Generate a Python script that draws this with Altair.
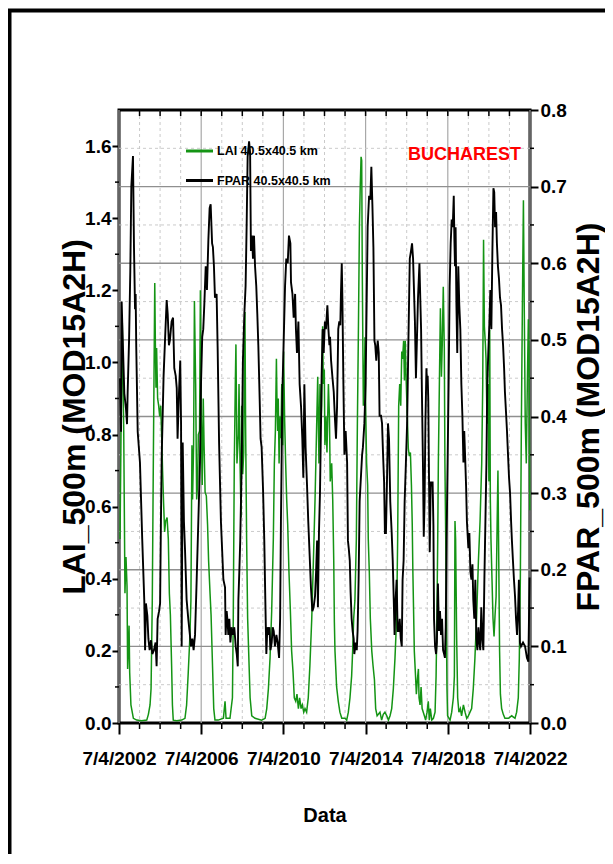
import altair as alt
import pandas as pd

# ---------------- data ----------------
# time is in decimal years, 2002.5 being the 7/4/2002 axis start
lai_year = [2002.55, 2002.60, 2002.66, 2002.73, 2002.79, 2002.84, 2002.89, 2002.92, 2002.99, 2003.02,
            2003.08, 2003.20, 2003.36, 2003.60, 2003.85, 2003.93, 2004.01, 2004.06, 2004.12, 2004.17,
            2004.24, 2004.27, 2004.30, 2004.33, 2004.38, 2004.43, 2004.48, 2004.53, 2004.58, 2004.62,
            2004.67, 2004.72, 2004.77, 2004.84, 2004.90, 2004.95, 2005.00, 2005.06, 2005.10, 2005.14,
            2005.31, 2005.55, 2005.71, 2005.79, 2005.87, 2005.95, 2006.00, 2006.05, 2006.08, 2006.13,
            2006.17, 2006.23, 2006.28, 2006.33, 2006.36, 2006.42, 2006.46, 2006.49, 2006.52, 2006.55,
            2006.60, 2006.64, 2006.69, 2006.75, 2006.81, 2006.86, 2006.93, 2006.98, 2007.04, 2007.11,
            2007.17, 2007.33, 2007.58, 2007.66, 2007.71, 2007.90, 2008.02, 2008.06, 2008.11, 2008.16,
            2008.19, 2008.24, 2008.31, 2008.34, 2008.39, 2008.44, 2008.47, 2008.52, 2008.57, 2008.60,
            2008.63, 2008.66, 2008.71, 2008.76, 2008.83, 2008.88, 2008.96, 2009.12, 2009.44, 2009.61,
            2009.69, 2009.77, 2009.85, 2009.93, 2010.01, 2010.06, 2010.11, 2010.16, 2010.19, 2010.22,
            2010.25, 2010.29, 2010.34, 2010.38, 2010.42, 2010.47, 2010.51, 2010.56, 2010.61, 2010.66,
            2010.71, 2010.77, 2010.84, 2010.90, 2010.97, 2011.03, 2011.10, 2011.16, 2011.23, 2011.29,
            2011.36, 2011.42, 2011.49, 2011.55, 2011.63, 2011.71, 2011.79, 2011.88, 2011.96, 2012.04,
            2012.12, 2012.17, 2012.23, 2012.28, 2012.33, 2012.36, 2012.41, 2012.44, 2012.49, 2012.52,
            2012.57, 2012.62, 2012.69, 2012.74, 2012.78, 2012.85, 2012.90, 2012.95, 2012.98, 2013.01,
            2013.09, 2013.17, 2013.25, 2013.34, 2013.50, 2013.58, 2013.66, 2013.74, 2013.82, 2013.87,
            2013.92, 2013.98, 2014.05, 2014.10, 2014.15, 2014.20, 2014.24, 2014.28, 2014.31, 2014.34,
            2014.39, 2014.44, 2014.47, 2014.50, 2014.55, 2014.60, 2014.63, 2014.68, 2014.73, 2014.80,
            2014.86, 2014.93, 2014.99, 2015.06, 2015.20, 2015.28, 2015.36, 2015.44, 2015.53, 2015.61,
            2015.69, 2015.77, 2015.85, 2015.93, 2016.01, 2016.06, 2016.11, 2016.16, 2016.21, 2016.26,
            2016.30, 2016.35, 2016.39, 2016.43, 2016.48, 2016.53, 2016.58, 2016.63, 2016.68, 2016.73,
            2016.77, 2016.80, 2016.87, 2016.93, 2016.97, 2017.02, 2017.07, 2017.10, 2017.15, 2017.20,
            2017.25, 2017.36, 2017.42, 2017.49, 2017.55, 2017.60, 2017.65, 2017.72, 2017.80, 2017.88,
            2017.93, 2017.97, 2018.01, 2018.04, 2018.09, 2018.14, 2018.19, 2018.23, 2018.28, 2018.33,
            2018.36, 2018.40, 2018.43, 2018.46, 2018.49, 2018.61, 2018.69, 2018.77, 2018.82, 2018.85,
            2018.88, 2018.93, 2018.98, 2019.04, 2019.11, 2019.17, 2019.26, 2019.34, 2019.42, 2019.50,
            2019.58, 2019.66, 2019.74, 2019.82, 2019.90, 2019.99, 2020.07, 2020.15, 2020.20, 2020.24,
            2020.28, 2020.33, 2020.36, 2020.41, 2020.46, 2020.50, 2020.54, 2020.57, 2020.60, 2020.65,
            2020.70, 2020.75, 2020.80, 2020.85, 2020.90, 2020.94, 2020.98, 2021.02, 2021.06, 2021.12,
            2021.20, 2021.28, 2021.45, 2021.61, 2021.77, 2021.85, 2021.93, 2021.98, 2022.03, 2022.08,
            2022.13, 2022.18, 2022.22, 2022.27, 2022.32, 2022.37, 2022.42, 2022.45, 2022.49]
lai_value = [0.51, 0.81, 1.11, 0.81, 0.36, 0.46, 0.38, 0.15, 0.27, 0.14,
             0.05, 0.013, 0.008, 0.006, 0.008, 0.024, 0.05, 0.095, 0.34, 0.72,
             1.22, 1.05, 0.93, 1.04, 0.90, 0.88, 0.85, 0.88, 0.79, 0.70,
             0.61, 0.53, 0.56, 0.57, 0.51, 0.36, 0.30, 0.16, 0.05, 0.008,
             0.006, 0.008, 0.013, 0.05, 0.14, 0.24, 0.34, 0.77, 0.62, 0.77,
             1.17, 0.94, 0.62, 0.67, 0.80, 0.81, 1.20, 0.90, 0.78, 0.66,
             0.90, 0.77, 0.64, 0.63, 0.55, 0.45, 0.36, 0.30, 0.18, 0.04,
             0.008, 0.008, 0.013, 0.06, 0.013, 0.013, 0.07, 0.29, 0.72, 0.94,
             1.05, 0.72, 0.80, 0.94, 0.72, 0.57, 0.88, 0.69, 0.75, 1.00,
             1.14, 0.83, 0.51, 0.29, 0.16, 0.07, 0.02, 0.013, 0.008, 0.013,
             0.04, 0.095, 0.18, 0.31, 0.51, 0.72, 0.81, 1.01, 0.88, 0.81,
             0.90, 0.72, 0.85, 0.79, 0.94, 0.77, 1.03, 0.84, 0.72, 0.62,
             0.55, 0.42, 0.31, 0.20, 0.14, 0.07, 0.06, 0.08, 0.04, 0.07,
             0.04, 0.05, 0.03, 0.04, 0.03, 0.07, 0.16, 0.29, 0.45, 0.62,
             0.83, 0.96, 0.72, 0.94, 0.83, 0.88, 1.10, 0.94, 0.98, 0.77,
             0.85, 0.75, 0.94, 0.85, 0.67, 0.72, 0.62, 0.45, 0.28, 0.20,
             0.10, 0.06, 0.03, 0.013, 0.013, 0.008, 0.03, 0.07, 0.13, 0.20,
             0.29, 0.34, 0.51, 0.83, 1.09, 1.38, 1.49, 1.57, 1.56, 1.24,
             0.88, 0.96, 1.07, 0.88, 0.72, 0.66, 0.51, 0.42, 0.29, 0.20,
             0.16, 0.12, 0.04, 0.02, 0.03, 0.008, 0.024, 0.03, 0.02, 0.008,
             0.02, 0.04, 0.095, 0.18, 0.29, 0.51, 0.88, 0.94, 0.88, 1.03,
             1.01, 1.06, 0.95, 1.06, 0.94, 0.85, 0.76, 0.74, 0.75, 0.66,
             0.55, 0.42, 0.20, 0.13, 0.08, 0.12, 0.15, 0.07, 0.05, 0.10,
             0.04, 0.02, 0.008, 0.03, 0.06, 0.008, 0.04, 0.008, 0.013, 0.03,
             0.13, 0.29, 0.51, 0.72, 0.94, 1.15, 0.96, 1.05, 1.21, 1.04,
             0.72, 0.51, 0.29, 0.095, 0.02, 0.008, 0.03, 0.07, 0.13, 0.56,
             0.51, 0.24, 0.07, 0.03, 0.04, 0.02, 0.05, 0.03, 0.013, 0.02,
             0.03, 0.04, 0.095, 0.18, 0.29, 0.45, 0.56, 0.72, 0.94, 1.34,
             1.10, 1.05, 1.01, 0.83, 0.94, 0.67, 1.09, 0.62, 0.51, 0.40,
             0.29, 0.24, 0.30, 0.35, 0.55, 0.70, 0.45, 0.20, 0.08, 0.04,
             0.024, 0.013, 0.013, 0.02, 0.013, 0.03, 0.07, 0.18, 0.40, 0.83,
             1.16, 1.45, 1.16, 0.83, 0.72, 0.94, 1.12, 1.03, 0.59]

fpar_year = [2002.55, 2002.60, 2002.63, 2002.66, 2002.76, 2002.84, 2002.89, 2002.92, 2002.99, 2003.05,
             2003.10, 2003.18, 2003.23, 2003.28, 2003.31, 2003.34, 2003.41, 2003.52, 2003.63, 2003.73,
             2003.77, 2003.81, 2003.88, 2003.93, 2003.99, 2004.06, 2004.12, 2004.20, 2004.28, 2004.33,
             2004.38, 2004.45, 2004.50, 2004.54, 2004.58, 2004.67, 2004.74, 2004.82, 2004.87, 2004.93,
             2004.98, 2005.06, 2005.13, 2005.19, 2005.26, 2005.31, 2005.35, 2005.42, 2005.48, 2005.52,
             2005.55, 2005.60, 2005.66, 2005.71, 2005.79, 2005.87, 2005.95, 2006.00, 2006.07, 2006.13,
             2006.20, 2006.28, 2006.36, 2006.44, 2006.49, 2006.55, 2006.60, 2006.65, 2006.72, 2006.78,
             2006.85, 2006.91, 2006.96, 2007.03, 2007.07, 2007.12, 2007.17, 2007.25, 2007.30, 2007.37,
             2007.46, 2007.58, 2007.66, 2007.69, 2007.74, 2007.79, 2007.82, 2007.87, 2007.92, 2007.98,
             2008.05, 2008.11, 2008.18, 2008.23, 2008.28, 2008.31, 2008.36, 2008.40, 2008.47, 2008.53,
             2008.60, 2008.66, 2008.71, 2008.76, 2008.83, 2008.88, 2008.92, 2008.97, 2009.02, 2009.07,
             2009.12, 2009.18, 2009.23, 2009.28, 2009.35, 2009.39, 2009.44, 2009.51, 2009.57, 2009.62,
             2009.67, 2009.72, 2009.77, 2009.82, 2009.87, 2009.93, 2009.98, 2010.03, 2010.09, 2010.16,
             2010.22, 2010.29, 2010.34, 2010.38, 2010.45, 2010.51, 2010.58, 2010.64, 2010.71, 2010.77,
             2010.84, 2010.87, 2010.94, 2011.00, 2011.07, 2011.11, 2011.16, 2011.23, 2011.29, 2011.36,
             2011.42, 2011.47, 2011.52, 2011.58, 2011.65, 2011.71, 2011.78, 2011.84, 2011.91, 2011.97,
             2012.04, 2012.09, 2012.14, 2012.18, 2012.23, 2012.28, 2012.33, 2012.36, 2012.41, 2012.46,
             2012.52, 2012.57, 2012.64, 2012.69, 2012.74, 2012.77, 2012.82, 2012.88, 2012.95, 2013.01,
             2013.06, 2013.11, 2013.17, 2013.22, 2013.27, 2013.30, 2013.34, 2013.37, 2013.42, 2013.47,
             2013.53, 2013.60, 2013.64, 2013.68, 2013.73, 2013.77, 2013.82, 2013.87, 2013.92, 2013.95,
             2014.02, 2014.07, 2014.11, 2014.16, 2014.21, 2014.28, 2014.33, 2014.37, 2014.44, 2014.50,
             2014.55, 2014.60, 2014.67, 2014.73, 2014.78, 2014.83, 2014.88, 2014.93, 2014.97, 2015.02,
             2015.09, 2015.14, 2015.18, 2015.25, 2015.30, 2015.35, 2015.40, 2015.44, 2015.49, 2015.54,
             2015.59, 2015.64, 2015.70, 2015.77, 2015.82, 2015.87, 2015.91, 2015.96, 2016.01, 2016.06,
             2016.11, 2016.16, 2016.21, 2016.26, 2016.30, 2016.35, 2016.40, 2016.45, 2016.52, 2016.58,
             2016.65, 2016.71, 2016.76, 2016.81, 2016.86, 2016.90, 2016.95, 2017.05, 2017.12, 2017.16,
             2017.20, 2017.24, 2017.29, 2017.33, 2017.37, 2017.41, 2017.46, 2017.49, 2017.52, 2017.55,
             2017.59, 2017.62, 2017.67, 2017.71, 2017.76, 2017.80, 2017.83, 2017.88, 2017.93, 2017.97,
             2018.02, 2018.07, 2018.12, 2018.17, 2018.22, 2018.27, 2018.32, 2018.36, 2018.40, 2018.44,
             2018.49, 2018.54, 2018.59, 2018.64, 2018.69, 2018.74, 2018.79, 2018.82, 2018.85, 2018.88,
             2018.92, 2018.96, 2019.01, 2019.06, 2019.11, 2019.16, 2019.21, 2019.26, 2019.30, 2019.34,
             2019.39, 2019.43, 2019.50, 2019.55, 2019.60, 2019.65, 2019.70, 2019.74, 2019.79, 2019.84,
             2019.89, 2019.94, 2019.99, 2020.04, 2020.08, 2020.13, 2020.18, 2020.23, 2020.28, 2020.33,
             2020.38, 2020.42, 2020.47, 2020.52, 2020.57, 2020.62, 2020.67, 2020.72, 2020.76, 2020.80,
             2020.85, 2020.89, 2020.94, 2020.99, 2021.04, 2021.09, 2021.14, 2021.19, 2021.24, 2021.28,
             2021.33, 2021.38, 2021.43, 2021.48, 2021.53, 2021.58, 2021.62, 2021.67, 2021.72, 2021.77,
             2021.82, 2021.87, 2021.92, 2021.96, 2022.01, 2022.06, 2022.16, 2022.26, 2022.35, 2022.42,
             2022.48]
fpar_value = [0.45, 0.38, 0.55, 0.52, 0.43, 0.41, 0.39, 0.43, 0.50, 0.59,
              0.70, 0.74, 0.62, 0.54, 0.56, 0.49, 0.38, 0.34, 0.24, 0.16,
              0.095, 0.156, 0.14, 0.11, 0.095, 0.108, 0.09, 0.095, 0.105, 0.074,
              0.136, 0.146, 0.156, 0.263, 0.35, 0.453, 0.50, 0.552, 0.534, 0.493,
              0.50, 0.524, 0.529, 0.463, 0.453, 0.437, 0.371, 0.432, 0.473, 0.391,
              0.10, 0.366, 0.263, 0.228, 0.161, 0.136, 0.115, 0.10, 0.11, 0.095,
              0.115, 0.187, 0.263, 0.34, 0.442, 0.504, 0.514, 0.545, 0.596, 0.565,
              0.631, 0.672, 0.677, 0.626, 0.621, 0.596, 0.555, 0.56, 0.49, 0.366,
              0.263, 0.187, 0.177, 0.115, 0.146, 0.13, 0.115, 0.136, 0.105, 0.125,
              0.115, 0.125, 0.10, 0.09, 0.074, 0.161, 0.202, 0.238, 0.34, 0.473,
              0.534, 0.57, 0.647, 0.739, 0.759, 0.744, 0.616, 0.636, 0.606, 0.636,
              0.596, 0.57, 0.534, 0.493, 0.417, 0.371, 0.36, 0.304, 0.238, 0.161,
              0.09, 0.125, 0.115, 0.125, 0.095, 0.105, 0.125, 0.12, 0.10, 0.115,
              0.105, 0.085, 0.136, 0.263, 0.432, 0.493, 0.57, 0.606, 0.60, 0.636,
              0.626, 0.575, 0.56, 0.529, 0.56, 0.514, 0.483, 0.524, 0.442, 0.412,
              0.371, 0.32, 0.442, 0.36, 0.31, 0.263, 0.217, 0.177, 0.146, 0.151,
              0.166, 0.197, 0.238, 0.151, 0.248, 0.30, 0.391, 0.453, 0.514, 0.483,
              0.524, 0.514, 0.545, 0.514, 0.493, 0.504, 0.473, 0.453, 0.432, 0.396,
              0.371, 0.412, 0.514, 0.524, 0.519, 0.56, 0.60, 0.555, 0.442, 0.35,
              0.381, 0.34, 0.238, 0.228, 0.212, 0.171, 0.136, 0.12, 0.11, 0.09,
              0.105, 0.095, 0.12, 0.187, 0.289, 0.325, 0.35, 0.36, 0.391, 0.442,
              0.545, 0.647, 0.688, 0.683, 0.726, 0.677, 0.621, 0.499, 0.493, 0.473,
              0.499, 0.483, 0.401, 0.401, 0.391, 0.35, 0.315, 0.248, 0.248, 0.315,
              0.391, 0.371, 0.289, 0.248, 0.212, 0.161, 0.115, 0.161, 0.187, 0.12,
              0.12, 0.136, 0.11, 0.10, 0.187, 0.212, 0.289, 0.33, 0.391, 0.493,
              0.606, 0.616, 0.626, 0.606, 0.56, 0.524, 0.45, 0.555, 0.60, 0.555,
              0.514, 0.432, 0.34, 0.243, 0.289, 0.391, 0.463, 0.442, 0.453, 0.422,
              0.309, 0.223, 0.315, 0.309, 0.315, 0.258, 0.136, 0.10, 0.09, 0.105,
              0.182, 0.12, 0.146, 0.115, 0.136, 0.095, 0.09, 0.085, 0.125, 0.238,
              0.34, 0.442, 0.57, 0.626, 0.657, 0.647, 0.688, 0.631, 0.596, 0.647,
              0.545, 0.483, 0.596, 0.545, 0.514, 0.442, 0.401, 0.34, 0.381, 0.35,
              0.309, 0.263, 0.228, 0.248, 0.197, 0.187, 0.207, 0.161, 0.136, 0.187,
              0.11, 0.095, 0.125, 0.105, 0.095, 0.151, 0.11, 0.095, 0.187, 0.263,
              0.34, 0.442, 0.483, 0.519, 0.565, 0.514, 0.616, 0.698, 0.693, 0.647,
              0.667, 0.626, 0.596, 0.58, 0.555, 0.545, 0.514, 0.493, 0.463, 0.432,
              0.407, 0.381, 0.35, 0.32, 0.30, 0.263, 0.238, 0.212, 0.187, 0.166,
              0.136, 0.115, 0.146, 0.187, 0.105, 0.10, 0.105, 0.10, 0.085, 0.08,
              0.19]

major_x = [2002.5, 2006.5, 2010.5, 2014.5, 2018.5, 2022.5]
minor_x = [2003.5, 2004.5, 2005.5, 2007.5, 2008.5, 2009.5, 2011.5, 2012.5, 2013.5,
           2015.5, 2016.5, 2017.5, 2019.5, 2020.5, 2021.5]
top_x = [2003.5, 2004.5, 2005.5, 2006.5, 2007.5, 2008.5, 2009.5, 2010.5, 2011.5, 2012.5,
         2013.5, 2014.5, 2015.5, 2016.5, 2017.5, 2018.5, 2019.5, 2020.5, 2021.5]
lai_ticks = [0.0, 0.2, 0.4, 0.6, 0.8, 1.0, 1.2, 1.4, 1.6]
lai_minor = [0.1, 0.3, 0.5, 0.7, 0.9, 1.1, 1.3, 1.5]
fpar_ticks = [0.0, 0.1, 0.2, 0.3, 0.4, 0.5, 0.6, 0.7, 0.8]
fpar_grid = [0.1, 0.2, 0.3, 0.4, 0.5, 0.6, 0.7]
fpar_minor = [0.05, 0.15, 0.25, 0.35, 0.45, 0.55, 0.65, 0.75]
series_names = ["LAI 40.5x40.5 km", "FPAR 40.5x40.5 km"]
series_colors = ["#149414", "#000000"]
place_label = "BUCHAREST"

lai_df = pd.DataFrame({"yr": lai_year, "lai": lai_value})
fpar_df = pd.DataFrame({"yr": fpar_year, "fpar": fpar_value})
major_df = pd.DataFrame({"yr": major_x})
minor_df = pd.DataFrame({"yr": minor_x})
top_df = pd.DataFrame({"yr": top_x})
fgrid_df = pd.DataFrame({"v": fpar_grid})
fminor_df = pd.DataFrame({"v": fpar_minor})
lminor_df = pd.DataFrame({"v": lai_minor})

W, H = 411, 613
FONT = "Liberation Sans, Arial, sans-serif"

XS = alt.Scale(domain=[2002.5, 2022.5], nice=False, zero=False)
YL = alt.Scale(domain=[0, 1.7], nice=False, zero=False)
YF = alt.Scale(domain=[0, 0.8], nice=False, zero=False)

xnone = dict(scale=XS, axis=None)

frame = alt.Chart(alt.Data(values=[{"a": 1}])).mark_rect(
    fillOpacity=0, stroke="black", strokeWidth=4).encode(
    x=alt.value(-109.5), x2=alt.value(900), y=alt.value(-99.5), y2=alt.value(1000))

x_axis = alt.Axis(
    orient="bottom",
    values=major_x, labelExpr="'7/4/' + floor(datum.value)",
    labelFont=FONT, labelFontSize=19, labelFontWeight="bold", labelColor="black",
    labelFlush=False, labelOverlap=False, labelBound=False,
    labelPadding=15, labelBaseline="top",
    tickSize=11, tickWidth=2, tickColor="black", domain=False, grid=False,
    title="Data", titleFont=FONT, titleFontSize=20, titleFontWeight="bold",
    titleColor="black", titleX=W / 2, titleY=92, titleAlign="center",
    titleBaseline="middle")

vgrid_major = alt.Chart(major_df).mark_rule(color="#a8a8a8", strokeWidth=1.2).encode(
    x=alt.X("yr:Q", scale=XS, axis=x_axis), y=alt.value(0), y2=alt.value(H))
vgrid_minor = alt.Chart(minor_df).mark_rule(
    color="#c4c4c4", strokeWidth=0.9, strokeDash=[3, 3]).encode(
    x=alt.X("yr:Q", **xnone), y=alt.value(0), y2=alt.value(H))
hgrid_minor = alt.Chart(fminor_df).mark_rule(
    color="#c4c4c4", strokeWidth=0.9, strokeDash=[3, 3]).encode(
    y=alt.Y("v:Q", scale=YF, axis=None), x=alt.value(0), x2=alt.value(W))
hgrid_major = alt.Chart(fgrid_df).mark_rule(color="#8f8f8f", strokeWidth=1.3).encode(
    y=alt.Y("v:Q", scale=YF, axis=None), x=alt.value(0), x2=alt.value(W))

lai_line = alt.Chart(lai_df).mark_line(strokeWidth=1.5, color=series_colors[0]).encode(
    x=alt.X("yr:Q", **xnone),
    y=alt.Y("lai:Q", scale=YL, axis=alt.Axis(
        orient="left", values=lai_ticks, format=".1f", labelFont=FONT, labelFontSize=19,
        labelFontWeight="bold", labelColor="black", labelPadding=1,
        tickSize=7, tickWidth=2, tickColor="black", domain=False, grid=False,
        title="LAI_500m (MOD15A2H)", titleFont=FONT, titleFontSize=32,
        titleFontWeight="bold", titleColor="black", titleAngle=270,
        titleX=-45, titleY=H / 2, titleAlign="center", titleBaseline="middle")),
)

fpar_line = alt.Chart(fpar_df).mark_line(strokeWidth=1.9, color=series_colors[1]).encode(
    x=alt.X("yr:Q", **xnone),
    y=alt.Y("fpar:Q", scale=YF, axis=alt.Axis(
        orient="right", values=fpar_ticks, format=".1f", labelFont=FONT,
        labelFontSize=19, labelFontWeight="bold", labelColor="black", labelPadding=2,
        tickSize=8, tickWidth=2, tickColor="black", domain=False, grid=False,
        title="FPAR_500m (MOD15A2H)", titleFont=FONT, titleFontSize=32,
        titleFontWeight="bold", titleColor="black", titleAngle=270,
        titleX=58, titleY=H / 2, titleAlign="center", titleBaseline="middle")),
)

ticks_bottom = alt.Chart(minor_df).mark_rule(color="black", strokeWidth=1.5).encode(
    x=alt.X("yr:Q", **xnone), y=alt.value(H), y2=alt.value(H + 6))
ticks_top = alt.Chart(top_df).mark_rule(color="black", strokeWidth=1.5).encode(
    x=alt.X("yr:Q", **xnone), y=alt.value(0), y2=alt.value(6))
ticks_left = alt.Chart(lminor_df).mark_rule(color="black", strokeWidth=1.5).encode(
    y=alt.Y("v:Q", scale=YL, axis=None), x=alt.value(-4), x2=alt.value(0))
ticks_right = alt.Chart(fminor_df).mark_rule(color="black", strokeWidth=1.5).encode(
    y=alt.Y("v:Q", scale=YF, axis=None), x=alt.value(W), x2=alt.value(W + 4))

# legend (two rows: line sample + label)
leg_layers = []
for i, (name, col) in enumerate(zip(series_names, series_colors)):
    yy = 41 + i * 29.5
    d = alt.Data(values=[{"t": name}])
    leg_layers.append(alt.Chart(d).mark_rule(color=col, strokeWidth=3).encode(
        x=alt.value(67), x2=alt.value(94), y=alt.value(yy)))
    leg_layers.append(alt.Chart(d).mark_text(
        font=FONT, fontSize=12.5, fontWeight="bold", color="black",
        align="left", baseline="middle").encode(
        text="t:N", x=alt.value(98), y=alt.value(yy)))

place = alt.Chart(alt.Data(values=[{"t": place_label}])).mark_text(
    font=FONT, fontSize=18, fontWeight="bold", color="#ff0000",
    align="left", baseline="middle").encode(
    text="t:N", x=alt.value(289), y=alt.value(45))

chart = alt.layer(
    frame, vgrid_major, vgrid_minor, hgrid_minor, hgrid_major,
    lai_line, fpar_line, ticks_bottom, ticks_top, ticks_left, ticks_right,
    *leg_layers, place,
).resolve_scale(y="independent").resolve_axis(x="independent", y="independent").properties(
    width=W, height=H,
    padding={"left": 111, "top": 102, "right": 75, "bottom": 131},
    autosize=alt.AutoSizeParams(type="none"),
).configure_view(stroke="black", strokeWidth=3)

chart.save("out.html", embed_options={"renderer": "svg", "actions": False})
